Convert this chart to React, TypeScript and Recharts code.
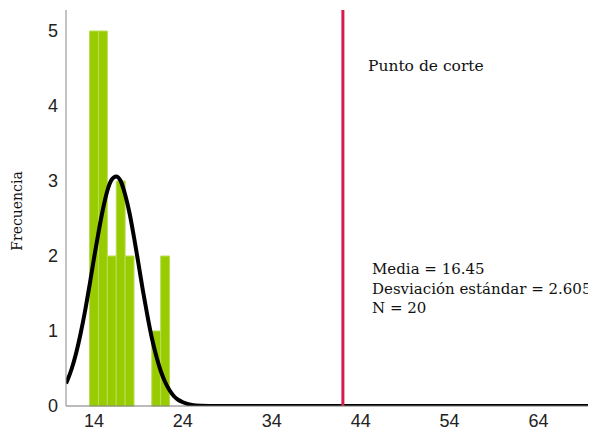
import { ComposedChart, Line, XAxis, YAxis, ReferenceLine, ReferenceArea } from 'recharts';

// histogram bins (width 1)
const binCenters = [14, 15, 16, 17, 18, 21, 22];
const binCounts = [5, 5, 2, 3, 2, 1, 2];
const binWidth = 1;

// normal curve
const curveX = [10.85, 11, 11.5, 12, 12.5, 13, 13.5, 14, 14.5, 15, 15.5, 16, 16.5, 17, 17.5, 18, 18.5, 19, 19.5, 20, 20.5, 21, 21.5, 22, 22.5, 23, 23.5, 24, 25, 26, 28, 74.3];
const curveY = [0.3, 0.34, 0.5, 0.71, 0.97, 1.27, 1.61, 1.97, 2.31, 2.62, 2.87, 3.02, 3.06, 3.0, 2.82, 2.57, 2.25, 1.9, 1.54, 1.21, 0.91, 0.67, 0.47, 0.32, 0.21, 0.13, 0.08, 0.05, 0.014, 0.004, 0, 0];

const xTicks = [14, 24, 34, 44, 54, 64];
const yTicks = [0, 1, 2, 3, 4, 5];
const cutoff = 42;
const cutoffLabel = 'Punto de corte';
const statsLines = ['Media = 16.45', 'Desviación estándar = 2.605', 'N = 20'];

const curveData = curveX.map((x, i) => ({ x, curve: curveY[i] }));

const serif = '"DejaVu Serif", serif';
const tickFont = { fontFamily: '"Liberation Sans Narrow", "Liberation Sans", sans-serif', fontSize: 18, fill: '#222' };

function YLabel(props: any) {
  const vb = props.viewBox;
  const cx = 17;
  const cy = vb.y + vb.height / 2 + 3;
  return (
    <text
      x={cx}
      y={cy}
      transform={`rotate(-90 ${cx} ${cy})`}
      textAnchor="middle"
      dominantBaseline="central"
      style={{ fontFamily: serif, fontSize: 14, fill: '#111' }}
    >
      Frecuencia
    </text>
  );
}

export default function App() {
  return (
    <div style={{ position: 'relative', margin: -8, width: 596, height: 436, overflow: 'hidden', background: '#fff' }}>
      <ComposedChart width={640} height={436} data={curveData} margin={{ top: 10, right: 10, bottom: 0, left: 0 }}>
        <XAxis
          dataKey="x"
          type="number"
          domain={[10.85, 74.3]}
          ticks={xTicks}
          allowDataOverflow
          tickLine={false}
          tickMargin={2}
          height={30}
          stroke="#777"
          tick={tickFont}
        />
        <YAxis
          type="number"
          domain={[0, 5.28]}
          ticks={yTicks}
          allowDataOverflow
          tickLine={false}
          width={66}
          stroke="#888"
          tick={tickFont}
          label={<YLabel />}
        />
        {binCenters.map((c, i) => (
          <ReferenceArea
            key={c}
            x1={c - binWidth / 2}
            x2={c + binWidth / 2}
            y1={0}
            y2={binCounts[i]}
            fill="#99cc00"
            fillOpacity={1}
            stroke="#b9dd55"
            strokeWidth={1}
          />
        ))}
        <Line
          dataKey="curve"
          type="monotone"
          stroke="#000"
          strokeWidth={4}
          dot={false}
          isAnimationActive={false}
        />
        <ReferenceLine x={cutoff} stroke="#d81b4f" strokeWidth={3} />
      </ComposedChart>
      <div style={{ position: 'absolute', left: 368, top: 55, fontFamily: serif, fontSize: 15.5, color: '#111', whiteSpace: 'nowrap', lineHeight: '22px' }}>
        {cutoffLabel}
      </div>
      <div style={{ position: 'absolute', left: 372, top: 260, fontFamily: serif, fontSize: 15, color: '#111', whiteSpace: 'nowrap', lineHeight: '19.5px' }}>
        {statsLines.map((s) => (
          <div key={s}>{s}</div>
        ))}
      </div>
    </div>
  );
}
